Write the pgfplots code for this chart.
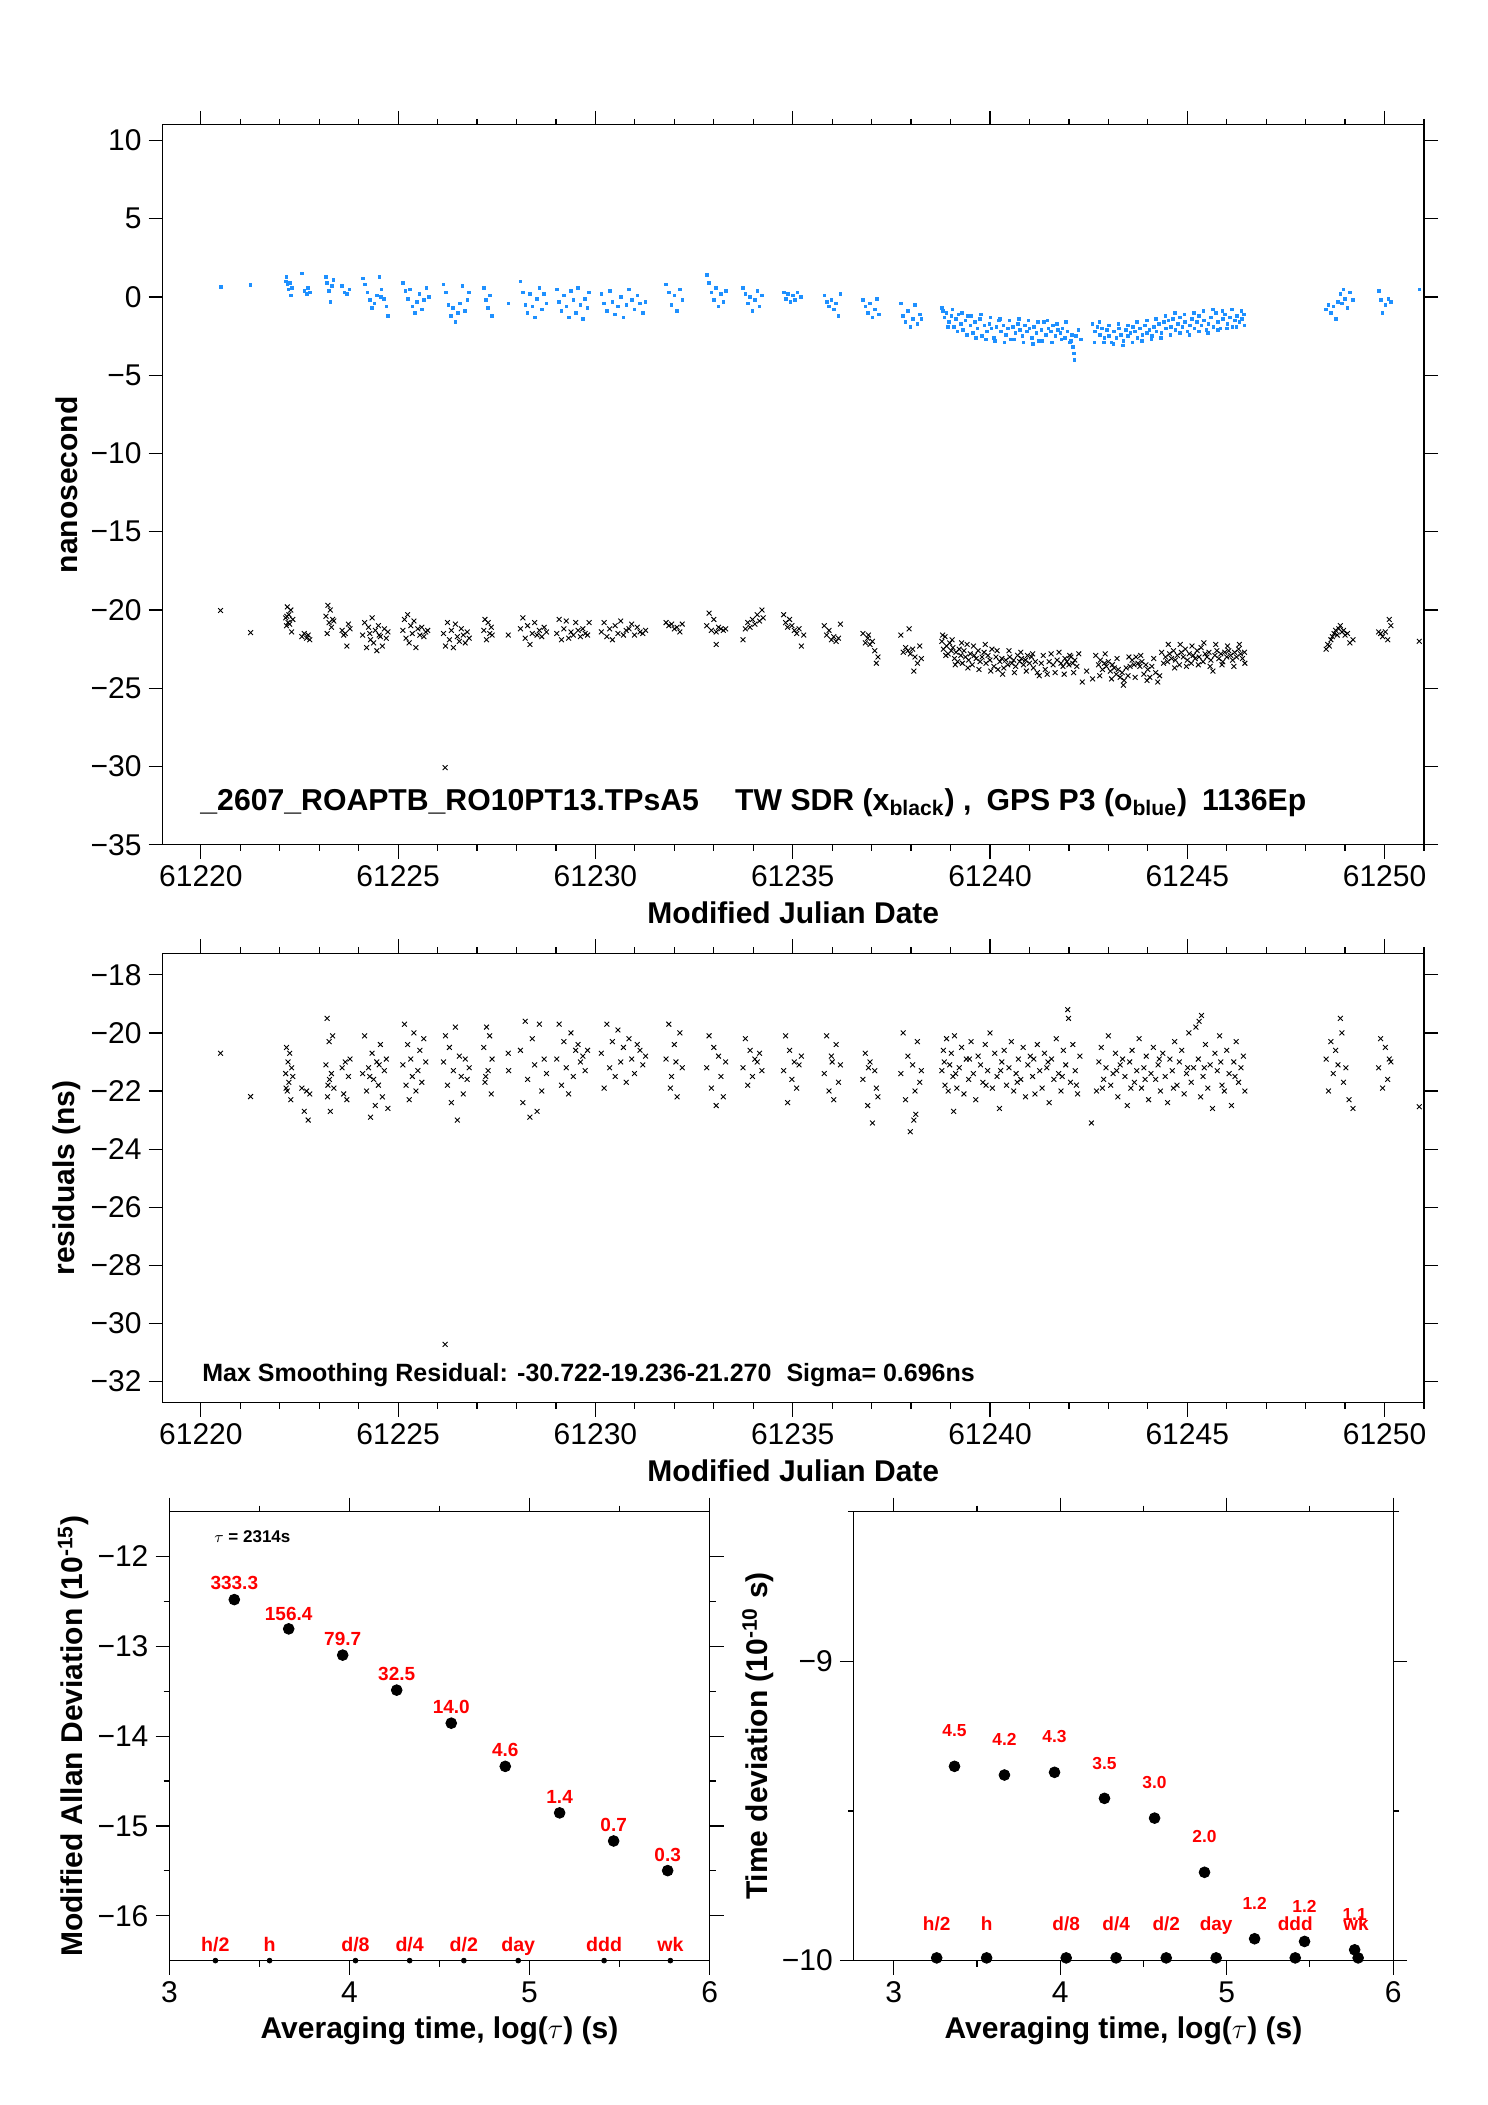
\documentclass[border=0pt]{standalone}
\usepackage{fontspec}
\setmainfont{Liberation Sans}
\usepackage{pgfplots}
\pgfplotsset{compat=1.18}
\definecolor{gpsblue}{RGB}{30,144,255}
\pgfplotsset{every axis/.append style={
  scale only axis, anchor=south west,
  axis line style={line width=0.6pt},
  every tick/.style={line width=0.6pt, black},
  tick align=outside, major tick length=7pt, minor tick length=3pt,
  xtick pos=both, ytick pos=both,
  xticklabel pos=lower, yticklabel pos=left,
  tick label style={font=\fontsize{15}{17}\selectfont},
  label style={font=\bfseries\fontsize{15}{17}\selectfont},
  scaled ticks=false,
}}
\begin{document}
\begin{tikzpicture}
\useasboundingbox (0,0) rectangle (744pt,1052.5pt);
% ================= TOP PANEL =================
\begin{axis}[
  at={(81.3pt,630.1pt)}, width=630.7pt, height=359.95pt,
  xmin=61219.03, xmax=61251.0, ymin=-35, ymax=11,
  xtick={61220,61225,61230,61235,61240,61245,61250},
  xticklabels={61220,61225,61230,61235,61240,61245,61250},
  minor xtick={61219,61220,...,61251},
  ytick={-35,-30,-25,-20,-15,-10,-5,0,5,10},
  yticklabels={−35,−30,−25,−20,−15,−10,−5,0,5,10},
  xlabel={Modified Julian Date},
  xlabel style={at={(axis description cs:0.5,-0.110)}, anchor=base},
  ylabel={nanosecond},
  ylabel style={at={(axis description cs:-0.0758,0.5)}, anchor=center},
]
\addplot[only marks, mark=square*, mark size=0.65pt, color=gpsblue] coordinates {
(61220.50,0.63) (61221.26,0.78)
(61222.15,1.0) (61222.17,1.3) (61222.19,0.8) (61222.22,0.5) (61222.25,0.9) (61222.28,0.1) (61222.30,0.6)
(61222.56,1.5) (61222.62,0.4) (61222.68,0.2) (61222.72,0.6) (61222.76,0.3)
(61223.17,1.3) (61223.20,0.9) (61223.24,0.4) (61223.28,-0.3) (61223.32,0.7) (61223.36,1.1)
(61223.58,0.7) (61223.64,0.3) (61223.70,0.2) (61223.76,0.5)
(61224.10,1.2) (61224.16,0.8) (61224.22,0.3) (61224.28,-0.2) (61224.34,-0.7) (61224.40,-0.4) (61224.46,0.1) (61224.52,1.3) (61224.58,0.5) (61224.64,-0.1) (61224.70,-0.6) (61224.74,-1.2) (61224.56,0.0)
(61225.12,0.9) (61225.18,0.4) (61225.24,-0.1) (61225.30,0.5) (61225.36,-0.6) (61225.42,-1.0) (61225.48,-0.3) (61225.54,0.2) (61225.60,-0.8) (61225.66,-0.2) (61225.72,0.6) (61225.78,0.0)
(61226.15,0.8) (61226.21,0.3) (61226.27,-0.5) (61226.33,-1.2) (61226.39,-0.7) (61226.45,-1.6) (61226.51,-1.0) (61226.57,-0.4) (61226.63,0.7) (61226.69,-0.9) (61226.75,-0.2) (61226.80,0.3)
(61227.17,0.6) (61227.22,-0.2) (61227.28,-0.7) (61227.33,0.1) (61227.38,-1.2) (61227.79,-0.4)
(61228.10,1.0) (61228.16,0.3) (61228.22,-0.5) (61228.28,-1.0) (61228.34,0.2) (61228.40,-0.6) (61228.46,-1.3) (61228.52,-0.1) (61228.58,0.6) (61228.64,-0.8) (61228.70,0.2) (61228.76,-0.4)
(61229.02,0.5) (61229.08,-0.3) (61229.14,-0.9) (61229.20,0.1) (61229.26,-0.6) (61229.32,-1.3) (61229.38,0.4) (61229.44,-0.2) (61229.50,-1.0) (61229.56,0.6) (61229.62,-0.5) (61229.68,-1.4) (61229.74,-0.1) (61229.80,-0.7) (61229.84,0.3)
(61230.15,0.2) (61230.22,-0.4) (61230.29,-0.9) (61230.36,0.4) (61230.43,-0.3) (61230.50,-1.1) (61230.57,-0.6) (61230.64,0.0) (61230.71,-1.3) (61230.78,-0.5) (61230.85,0.5) (61230.92,-0.2) (61230.99,-0.8) (61231.06,0.1) (61231.13,-0.4) (61231.20,-1.0) (61231.27,-0.3)
(61231.79,0.8) (61231.86,0.3) (61231.93,-0.5) (61232.00,0.1) (61232.07,-0.9) (61232.14,0.5) (61232.20,-0.2)
(61232.82,1.4) (61232.88,0.9) (61232.94,0.3) (61233.00,-0.2) (61233.06,0.6) (61233.12,-0.6) (61233.18,0.2) (61233.24,-0.3) (61233.30,0.4)
(61233.74,0.6) (61233.80,0.2) (61233.86,-0.4) (61233.92,0.0) (61233.98,-0.9) (61234.04,-0.2) (61234.10,0.4) (61234.16,-0.6) (61234.22,0.1)
(61234.77,0.3) (61234.82,-0.1) (61234.88,0.2) (61234.94,-0.3) (61235.00,0.1) (61235.06,-0.2) (61235.12,0.3) (61235.20,0.0)
(61235.80,0.1) (61235.86,-0.3) (61235.92,-0.6) (61235.98,-0.2) (61236.04,-0.8) (61236.10,-0.4) (61236.16,-1.2) (61236.21,0.2)
(61236.78,-0.2) (61236.84,-0.6) (61236.90,-1.0) (61236.96,-0.4) (61237.02,-1.3) (61237.08,-0.8) (61237.14,-0.1) (61237.19,-1.1)
(61237.74,-0.4) (61237.80,-1.2) (61237.86,-1.6) (61237.92,-0.9) (61237.98,-1.9) (61238.04,-1.4) (61238.10,-0.5) (61238.16,-1.7) (61238.22,-1.1) (61238.26,-1.4)
(61238.78,-0.7) (61238.84,-1.3) (61238.90,-1.0) (61238.96,-1.6) (61239.02,-1.2) (61239.08,-1.9) (61239.14,-1.4) (61239.20,-1.1) (61239.26,-1.7) (61239.32,-2.1)
(61239.38,-1.5) (61239.44,-1.2) (61239.50,-1.8) (61239.56,-2.3) (61239.62,-1.6) (61239.68,-2.0) (61239.74,-1.4) (61239.80,-2.5) (61239.86,-1.8) (61239.92,-2.2)
(61239.98,-1.7) (61240.04,-2.0) (61240.10,-2.6) (61240.16,-1.9) (61240.22,-1.5) (61240.28,-2.2) (61240.34,-1.8) (61240.40,-2.4) (61240.46,-2.0) (61240.52,-2.7)
(61240.58,-1.9) (61240.64,-2.3) (61240.70,-1.7) (61240.76,-2.1) (61240.82,-2.5) (61240.88,-1.8) (61240.94,-2.2) (61241.00,-2.0) (61241.06,-2.6) (61241.12,-1.9)
(61241.18,-2.3) (61241.24,-2.8) (61241.30,-2.1) (61241.36,-1.6) (61241.42,-2.4) (61241.48,-2.0) (61241.54,-2.2) (61241.60,-1.8) (61241.66,-2.5) (61241.72,-2.1)
(61241.78,-2.3) (61241.84,-2.0) (61241.90,-2.6) (61241.96,-2.2) (61242.02,-2.9) (61242.08,-2.4) (61242.10,-3.2) (61242.12,-3.6) (61242.14,-4.0) (61242.18,-2.5)
(61242.24,-2.1) (61242.30,-2.7) (61242.60,-1.7) (61242.66,-2.2) (61242.72,-1.9) (61242.78,-2.4) (61242.84,-2.0) (61242.90,-2.6) (61242.96,-2.1) (61243.02,-2.5)
(61243.08,-2.9) (61243.14,-2.2) (61243.20,-2.6) (61243.26,-2.0) (61243.32,-2.4) (61243.38,-2.8) (61243.44,-2.1) (61243.50,-2.5) (61243.56,-2.3) (61243.62,-1.9)
(61243.68,-2.2) (61243.74,-2.6) (61243.80,-2.0) (61243.86,-2.4) (61243.92,-1.8) (61243.98,-2.3) (61244.04,-2.1) (61244.10,-2.5) (61244.16,-1.9) (61244.22,-2.2)
(61244.28,-1.7) (61244.34,-2.3) (61244.40,-1.6) (61244.46,-2.0) (61244.52,-1.5) (61244.58,-1.9) (61244.64,-1.4) (61244.70,-2.1) (61244.76,-1.7) (61244.82,-1.3)
(61244.88,-1.9) (61244.94,-1.6) (61245.00,-2.2) (61245.06,-1.8) (61245.12,-1.4) (61245.18,-2.0) (61245.24,-1.6) (61245.30,-1.2) (61245.36,-1.8) (61245.42,-1.5)
(61245.48,-2.1) (61245.54,-1.7) (61245.60,-1.3) (61245.66,-1.9) (61245.72,-1.0) (61245.78,-1.6) (61245.84,-2.0) (61245.90,-1.4) (61245.96,-1.1) (61246.02,-1.7)
(61246.08,-1.3) (61246.14,-1.9) (61246.20,-1.5) (61246.26,-1.2) (61246.32,-1.6) (61246.38,-1.4) (61246.44,-1.1)
(61238.81,-0.9) (61238.93,-1.9) (61239.05,-0.8) (61239.17,-2.2) (61239.29,-1.0) (61239.41,-2.4) (61239.53,-1.2) (61239.65,-2.6) (61239.77,-1.1) (61239.89,-2.7)
(61240.01,-1.3) (61240.13,-2.8) (61240.25,-1.4) (61240.37,-2.9) (61240.49,-1.5) (61240.61,-2.7) (61240.73,-1.4) (61240.85,-2.9) (61240.97,-1.5) (61241.09,-3.0)
(61241.21,-1.6) (61241.33,-2.8) (61241.45,-1.5) (61241.57,-2.9) (61241.69,-1.7) (61241.81,-2.7) (61241.93,-1.6) (61242.05,-2.8) (61242.65,-2.9) (61242.77,-1.6)
(61242.89,-2.9) (61243.01,-1.8) (61243.13,-3.0) (61243.25,-1.7) (61243.37,-3.1) (61243.49,-1.8) (61243.61,-2.9) (61243.73,-1.6) (61243.85,-2.8) (61243.97,-1.5)
(61244.09,-2.7) (61244.21,-1.4) (61244.33,-2.6) (61244.45,-1.2) (61244.57,-2.4) (61244.69,-1.0) (61244.81,-2.3) (61244.93,-1.1) (61245.05,-2.4) (61245.17,-1.0)
(61245.29,-2.2) (61245.41,-0.9) (61245.53,-2.3) (61245.65,-0.8) (61245.77,-2.1) (61245.89,-0.9) (61246.01,-2.0) (61246.13,-0.8) (61246.25,-1.9) (61246.37,-0.9) (61246.45,-1.8)
(61248.52,-0.8) (61248.58,-0.5) (61248.64,-1.0) (61248.70,-0.6) (61248.76,-1.4) (61248.82,-0.3) (61248.88,0.2) (61248.92,-0.4) (61248.96,0.5) (61249.00,-0.1) (61249.06,-0.7) (61249.12,0.3) (61249.20,-0.2)
(61249.85,0.4) (61249.90,-0.2) (61249.95,-1.0) (61250.02,-0.5) (61250.10,-0.1) (61250.16,-0.3)
(61250.88,0.5)
};
\addplot[only marks, mark=x, mark size=1.7pt, black, mark options={line width=0.45pt}] coordinates {
(61220.50,-20.03) (61221.26,-21.44)
(61222.15,-20.5) (61222.17,-21.0) (61222.19,-19.8) (61222.21,-20.8) (61222.23,-20.3) (61222.25,-20.9) (61222.28,-20.0) (61222.30,-21.4) (61222.33,-20.6) (61222.18,-20.4)
(61222.56,-21.7) (61222.62,-21.5) (61222.68,-21.8) (61222.72,-21.6) (61222.76,-21.9)
(61223.17,-20.4) (61223.20,-21.5) (61223.22,-19.7) (61223.25,-20.8) (61223.28,-20.0) (61223.31,-21.1) (61223.34,-20.6) (61223.37,-20.7)
(61223.58,-21.3) (61223.62,-21.6) (61223.66,-21.5) (61223.70,-22.3) (61223.74,-20.9) (61223.78,-21.2)
(61224.10,-21.6) (61224.15,-20.8) (61224.20,-22.4) (61224.25,-21.1) (61224.30,-21.9) (61224.34,-20.5) (61224.38,-22.1) (61224.42,-21.3) (61224.46,-22.6) (61224.50,-21.0) (61224.55,-21.7) (61224.60,-22.3) (61224.65,-21.2) (61224.70,-21.8) (61224.74,-21.4) (61224.28,-21.5) (61224.52,-21.6)
(61225.12,-21.3) (61225.16,-20.6) (61225.20,-21.8) (61225.24,-20.3) (61225.28,-22.1) (61225.32,-21.0) (61225.36,-21.5) (61225.40,-20.7) (61225.45,-22.4) (61225.50,-21.2) (61225.55,-21.6) (61225.60,-21.1) (61225.65,-21.7) (61225.70,-21.4) (61225.75,-21.3)
(61226.15,-21.5) (61226.19,-30.07) (61226.20,-22.3) (61226.25,-20.8) (61226.30,-21.9) (61226.35,-21.3) (61226.40,-22.4) (61226.45,-20.9) (61226.50,-21.7) (61226.55,-22.0) (61226.60,-21.2) (61226.65,-21.6) (61226.70,-22.1) (61226.75,-21.4) (61226.80,-21.8)
(61227.17,-21.3) (61227.20,-20.6) (61227.24,-21.9) (61227.28,-20.8) (61227.32,-21.5) (61227.36,-21.1) (61227.38,-21.6) (61227.79,-21.6)
(61228.10,-21.2) (61228.16,-20.5) (61228.22,-21.8) (61228.28,-21.0) (61228.34,-22.2) (61228.40,-21.5) (61228.46,-20.8) (61228.52,-21.6) (61228.58,-21.3) (61228.64,-21.7) (61228.70,-21.1) (61228.76,-21.4)
(61229.02,-21.5) (61229.08,-20.6) (61229.14,-21.9) (61229.20,-21.2) (61229.26,-20.7) (61229.32,-21.8) (61229.38,-21.4) (61229.44,-21.6) (61229.50,-20.8) (61229.56,-21.3) (61229.62,-21.7) (61229.68,-21.2) (61229.74,-21.5) (61229.80,-21.6) (61229.84,-20.8)
(61230.15,-21.4) (61230.22,-20.8) (61230.29,-21.7) (61230.36,-21.2) (61230.43,-21.9) (61230.50,-21.0) (61230.57,-21.5) (61230.64,-20.7) (61230.71,-21.6) (61230.78,-21.3) (61230.85,-21.2) (61230.92,-20.9) (61230.99,-21.6) (61231.06,-21.1) (61231.13,-21.4) (61231.20,-21.5) (61231.27,-21.3)
(61231.79,-20.8) (61231.86,-21.0) (61231.93,-20.9) (61232.00,-21.2) (61232.07,-21.1) (61232.14,-21.4) (61232.20,-20.9)
(61232.82,-21.0) (61232.88,-20.2) (61232.94,-21.3) (61233.00,-20.6) (61233.06,-21.4) (61233.12,-21.1) (61233.18,-21.2) (61233.24,-21.3) (61233.30,-21.2) (61233.06,-22.2)
(61233.74,-21.9) (61233.80,-21.2) (61233.86,-20.8) (61233.92,-21.1) (61233.98,-20.6) (61234.04,-20.9) (61234.10,-20.3) (61234.16,-20.7) (61234.22,-20.0) (61234.25,-20.5)
(61234.77,-20.3) (61234.82,-20.8) (61234.87,-21.1) (61234.92,-20.6) (61234.98,-21.0) (61235.04,-21.3) (61235.10,-21.5) (61235.16,-21.2) (61235.22,-22.3) (61235.28,-21.6)
(61235.80,-21.0) (61235.86,-21.6) (61235.92,-21.3) (61235.98,-21.9) (61236.04,-21.7) (61236.10,-22.0) (61236.16,-21.8) (61236.21,-20.9)
(61236.78,-21.5) (61236.84,-22.1) (61236.90,-21.8) (61236.96,-22.2) (61237.02,-22.0) (61237.08,-22.6) (61237.12,-23.4) (61237.16,-23.0) (61236.92,-21.6)
(61237.74,-21.6) (61237.80,-22.7) (61237.86,-22.4) (61237.92,-22.6) (61237.98,-22.8) (61238.04,-22.5) (61238.10,-23.0) (61238.16,-23.4) (61238.22,-22.3) (61238.26,-23.1) (61237.95,-21.2) (61238.07,-23.9)
(61238.78,-22.0) (61238.82,-22.5) (61238.86,-21.7) (61238.90,-22.3) (61238.94,-22.8) (61238.98,-22.1) (61239.02,-22.6) (61239.06,-22.4) (61239.10,-23.1) (61239.14,-22.7)
(61239.18,-23.3) (61239.22,-22.5) (61239.26,-22.9) (61239.30,-23.4) (61239.34,-22.6) (61239.38,-23.0) (61239.42,-22.2) (61239.46,-23.2) (61239.50,-22.8) (61239.55,-23.5)
(61239.60,-22.9) (61239.65,-23.1) (61239.70,-22.6) (61239.75,-23.3) (61239.80,-23.0) (61239.85,-22.7) (61239.90,-23.4) (61239.95,-22.9) (61240.00,-23.2) (61240.05,-22.5)
(61240.10,-23.6) (61240.15,-23.0) (61240.20,-23.8) (61240.25,-23.3) (61240.30,-23.1) (61240.35,-23.7) (61240.40,-23.2) (61240.45,-23.5) (61240.50,-23.0) (61240.55,-23.4)
(61240.60,-23.2) (61240.65,-23.6) (61240.70,-22.9) (61240.75,-23.3) (61240.80,-23.1) (61240.85,-23.5) (61240.90,-23.2) (61240.95,-22.9) (61241.00,-23.4) (61241.05,-23.0)
(61241.10,-23.7) (61241.15,-23.3) (61241.20,-24.0) (61241.30,-23.4) (61241.40,-23.8) (61241.50,-23.3) (61241.60,-23.5) (61241.70,-23.2) (61241.80,-23.4) (61241.85,-23.6)
(61241.90,-23.1) (61241.95,-23.3) (61242.00,-23.5) (61242.05,-23.0) (61242.10,-23.4) (61242.15,-23.2) (61242.20,-23.6) (61242.34,-24.6) (61242.60,-24.4) (61242.75,-23.5)
(61242.80,-23.2) (61242.85,-23.8) (61242.90,-23.4) (61242.95,-23.6) (61243.00,-23.3) (61243.05,-23.9) (61243.10,-23.5) (61243.15,-23.7) (61243.20,-24.1) (61243.25,-23.8)
(61243.30,-24.3) (61243.35,-24.0) (61243.40,-24.5) (61243.45,-23.7) (61243.50,-24.2) (61243.55,-23.6) (61243.60,-23.2) (61243.65,-23.5) (61243.70,-23.0) (61243.75,-23.4)
(61243.80,-23.6) (61243.85,-23.3) (61243.90,-24.1) (61243.95,-23.5) (61244.00,-23.8) (61244.05,-24.3) (61244.10,-23.6) (61244.20,-24.0) (61244.30,-24.2) (61244.40,-23.4)
(61244.45,-23.0) (61244.50,-23.3) (61244.55,-22.8) (61244.60,-23.1) (61244.65,-22.6) (61244.70,-23.2) (61244.75,-22.9) (61244.80,-23.5) (61244.85,-22.7) (61244.90,-23.0)
(61244.95,-22.5) (61245.00,-23.2) (61245.05,-22.8) (61245.10,-23.4) (61245.15,-22.9) (61245.20,-23.1) (61245.25,-22.6) (61245.30,-23.0) (61245.35,-22.4) (61245.40,-23.3)
(61245.45,-22.8) (61245.50,-23.0) (61245.55,-22.7) (61245.60,-23.2) (61245.65,-23.9) (61245.70,-22.9) (61245.75,-22.6) (61245.80,-23.1) (61245.85,-22.8) (61245.90,-23.3)
(61245.95,-22.7) (61246.00,-23.0) (61246.05,-22.6) (61246.10,-22.9) (61246.15,-23.2) (61246.20,-22.7) (61246.25,-23.0) (61246.30,-22.5) (61246.35,-22.8) (61246.40,-23.1) (61246.45,-22.7)
(61238.80,-21.6) (61238.88,-22.9) (61239.04,-21.9) (61239.12,-23.5) (61239.28,-22.1) (61239.44,-23.7) (61239.58,-22.3) (61239.72,-23.8) (61239.88,-22.2) (61240.02,-23.9)
(61240.18,-22.6) (61240.32,-24.1) (61240.48,-22.6) (61240.62,-24.0) (61240.78,-22.7) (61240.92,-23.9) (61241.08,-22.8) (61241.25,-24.2) (61241.35,-22.9) (61241.45,-24.1)
(61241.55,-22.8) (61241.65,-24.0) (61241.75,-22.7) (61241.88,-24.1) (61242.02,-22.9) (61242.12,-24.0) (61242.25,-22.8) (61242.45,-23.9) (61242.68,-22.9) (61242.78,-24.2)
(61242.92,-22.8) (61243.08,-24.4) (61243.22,-23.1) (61243.38,-24.8) (61243.52,-23.0) (61243.68,-24.3) (61243.82,-22.9) (61243.98,-24.5) (61244.15,-23.1) (61244.25,-24.6)
(61244.35,-22.7) (61244.52,-22.2) (61244.68,-23.7) (61244.82,-22.2) (61244.98,-23.6) (61245.12,-22.3) (61245.28,-23.5) (61245.42,-22.1) (61245.58,-23.6) (61245.72,-22.2)
(61245.88,-23.5) (61246.02,-22.3) (61246.18,-23.6) (61246.32,-22.2) (61246.46,-23.4)
(61248.52,-22.5) (61248.56,-22.2) (61248.60,-22.3) (61248.64,-21.9) (61248.68,-21.7) (61248.72,-21.5) (61248.76,-21.3) (61248.80,-21.6) (61248.84,-21.2) (61248.88,-21.0) (61248.92,-21.4) (61248.96,-21.3) (61249.00,-21.6) (61249.06,-21.5) (61249.12,-22.1) (61249.20,-21.9)
(61249.85,-21.4) (61249.90,-21.5) (61249.95,-21.7) (61250.02,-21.4) (61250.08,-21.9) (61250.12,-20.6) (61250.16,-21.0)
(61250.88,-22.0)
};
\node[anchor=base west, font=\bfseries\fontsize{15.1}{17}\selectfont, inner sep=0pt] at (rel axis cs:0.0297,0.0483)
  {\_2607\_ROAPTB\_RO10PT13.TPsA5\hspace{1.2em}TW SDR (x\textsubscript{black}) ,\hspace{0.5em}GPS P3 (o\textsubscript{blue})\hspace{0.5em}1136Ep};
\end{axis}
% ================= MIDDLE PANEL =================
\begin{axis}[
  at={(81.3pt,351.1pt)}, width=630.7pt, height=224.75pt,
  xmin=61219.03, xmax=61251.0, ymin=-32.73, ymax=-17.26,
  xtick={61220,61225,61230,61235,61240,61245,61250},
  xticklabels={61220,61225,61230,61235,61240,61245,61250},
  minor xtick={61219,61220,...,61251},
  ytick={-32,-30,-28,-26,-24,-22,-20,-18},
  yticklabels={−32,−30,−28,−26,−24,−22,−20,−18},
  xlabel={Modified Julian Date},
  xlabel style={at={(axis description cs:0.5,-0.1744)}, anchor=base},
  ylabel={residuals (ns)},
  ylabel style={at={(axis description cs:-0.0758,0.5)}, anchor=center},
]
\addplot[only marks, mark=x, mark size=1.7pt, black, mark options={line width=0.45pt}] coordinates {
(61220.50,-20.70) (61221.26,-22.19)
(61222.15,-21.4) (61222.17,-20.5) (61222.19,-22.0) (61222.21,-21.0) (61222.23,-21.7) (61222.25,-20.7) (61222.28,-22.3) (61222.30,-21.2) (61222.16,-21.9) (61222.33,-21.5)
(61222.56,-21.9) (61222.62,-22.7) (61222.68,-22.0) (61222.72,-23.0) (61222.76,-22.1)
(61223.17,-21.1) (61223.20,-19.5) (61223.22,-21.8) (61223.25,-20.3) (61223.28,-22.7) (61223.31,-21.4) (61223.34,-20.1) (61223.21,-22.2) (61223.26,-21.6) (61223.37,-21.9)
(61223.58,-21.2) (61223.62,-22.1) (61223.66,-21.0) (61223.70,-22.3) (61223.74,-21.5) (61223.78,-20.9)
(61224.10,-21.4) (61224.15,-20.1) (61224.20,-22.0) (61224.25,-21.2) (61224.30,-22.9) (61224.34,-20.7) (61224.38,-21.6) (61224.42,-22.5) (61224.46,-21.0) (61224.50,-21.8) (61224.55,-20.4) (61224.60,-22.2) (61224.65,-21.3) (61224.70,-20.9) (61224.74,-22.6) (61224.28,-21.5) (61224.52,-21.1)
(61225.12,-21.1) (61225.16,-19.7) (61225.20,-21.8) (61225.24,-20.4) (61225.28,-22.3) (61225.32,-20.9) (61225.36,-21.5) (61225.40,-20.0) (61225.45,-22.0) (61225.50,-21.3) (61225.55,-20.6) (61225.60,-21.7) (61225.65,-20.2) (61225.70,-21.0)
(61226.15,-21.0) (61226.19,-30.72) (61226.20,-20.1) (61226.25,-21.8) (61226.30,-20.5) (61226.35,-22.4) (61226.40,-21.3) (61226.45,-19.8) (61226.50,-23.0) (61226.55,-20.8) (61226.60,-21.5) (61226.65,-22.1) (61226.70,-20.9) (61226.75,-21.6) (61226.80,-21.2)
(61227.17,-20.5) (61227.20,-21.7) (61227.24,-19.8) (61227.28,-21.3) (61227.32,-20.1) (61227.36,-22.1) (61227.38,-20.9) (61227.22,-21.5)
(61227.79,-20.7) (61227.80,-21.3)
(61228.10,-20.6) (61228.16,-22.4) (61228.22,-19.6) (61228.28,-21.6) (61228.34,-22.9) (61228.40,-20.2) (61228.46,-21.1) (61228.52,-22.7) (61228.58,-19.7) (61228.64,-22.0) (61228.70,-20.9) (61228.76,-21.4)
(61229.02,-20.9) (61229.08,-19.7) (61229.14,-21.8) (61229.20,-20.3) (61229.26,-21.2) (61229.32,-22.1) (61229.38,-20.0) (61229.44,-21.5) (61229.50,-20.6) (61229.56,-20.4) (61229.62,-21.0) (61229.68,-20.8) (61229.74,-21.3) (61229.80,-20.6)
(61230.15,-20.7) (61230.22,-21.9) (61230.29,-19.7) (61230.36,-21.2) (61230.43,-20.3) (61230.50,-21.5) (61230.57,-19.9) (61230.64,-21.0) (61230.71,-20.5) (61230.78,-21.7) (61230.85,-20.2) (61230.92,-20.9) (61230.99,-21.4) (61231.06,-20.4) (61231.13,-20.6) (61231.20,-21.1) (61231.27,-20.8)
(61231.79,-20.9) (61231.86,-19.7) (61231.93,-21.5) (61232.00,-20.4) (61232.07,-22.2) (61232.14,-20.0) (61232.20,-21.2) (61231.90,-21.9) (61232.04,-21.0)
(61232.82,-21.2) (61232.88,-20.1) (61232.94,-21.9) (61233.00,-20.5) (61233.06,-22.5) (61233.12,-20.8) (61233.18,-21.5) (61233.24,-22.2) (61233.30,-21.0)
(61233.74,-21.2) (61233.80,-20.2) (61233.86,-21.8) (61233.92,-20.6) (61233.98,-21.5) (61234.04,-20.9) (61234.10,-21.0) (61234.16,-20.7) (61234.22,-21.3)
(61234.77,-21.3) (61234.82,-20.1) (61234.87,-22.4) (61234.92,-20.6) (61234.98,-21.6) (61235.04,-21.0) (61235.10,-21.9) (61235.16,-21.1) (61235.22,-20.8)
(61235.80,-21.4) (61235.86,-20.1) (61235.92,-22.0) (61235.98,-20.8) (61236.04,-22.3) (61236.10,-20.4) (61236.16,-21.7) (61236.21,-21.1) (61236.00,-21.0)
(61236.78,-21.6) (61236.84,-20.7) (61236.90,-22.5) (61236.96,-21.0) (61237.02,-23.1) (61237.08,-21.3) (61237.12,-21.9) (61237.16,-22.2) (61236.92,-21.2)
(61237.74,-21.4) (61237.80,-20.0) (61237.86,-22.3) (61237.92,-20.8) (61237.98,-23.4) (61238.04,-21.1) (61238.10,-22.0) (61238.16,-20.3) (61238.22,-21.7) (61238.07,-23.0) (61238.12,-22.8) (61238.26,-21.3)
(61238.78,-21.3) (61238.82,-20.6) (61238.86,-21.8) (61238.90,-20.2) (61238.94,-22.0) (61238.98,-21.1) (61239.02,-20.7) (61239.06,-21.5) (61239.08,-22.7) (61239.10,-20.1)
(61239.16,-21.9) (61239.22,-21.2) (61239.28,-20.5) (61239.34,-22.1) (61239.40,-20.9) (61239.46,-21.6) (61239.52,-20.3) (61239.58,-21.4) (61239.64,-22.3) (61239.70,-20.8)
(61239.76,-21.1) (61239.82,-21.7) (61239.88,-20.4) (61239.94,-21.3) (61240.00,-20.0) (61240.06,-21.9) (61240.12,-20.7) (61240.18,-21.5) (61240.24,-22.6) (61240.30,-21.0)
(61240.36,-20.6) (61240.42,-21.8) (61240.48,-21.2) (61240.54,-20.3) (61240.60,-22.0) (61240.66,-21.4) (61240.72,-20.9) (61240.78,-21.6) (61240.84,-20.5) (61240.90,-22.2)
(61240.96,-21.1) (61241.02,-20.8) (61241.08,-21.5) (61241.14,-22.1) (61241.20,-20.4) (61241.26,-21.3) (61241.32,-21.9) (61241.38,-20.7) (61241.44,-21.2) (61241.50,-22.4)
(61241.56,-20.9) (61241.62,-21.6) (61241.68,-20.2) (61241.74,-21.4) (61241.80,-22.0) (61241.86,-20.6) (61241.92,-21.1) (61241.97,-19.2) (61241.99,-19.5) (61242.04,-21.7)
(61242.10,-20.4) (61242.16,-21.3) (61242.22,-22.1) (61242.28,-20.8) (61242.57,-23.1) (61242.70,-22.0) (61242.76,-21.0) (61242.82,-20.5) (61242.88,-21.6) (61242.94,-21.2)
(61243.00,-20.1) (61243.06,-21.8) (61243.12,-21.4) (61243.18,-20.7) (61243.24,-22.2) (61243.30,-21.1) (61243.36,-20.9) (61243.42,-21.5) (61243.48,-22.5) (61243.54,-21.0)
(61243.60,-20.6) (61243.66,-21.7) (61243.72,-21.3) (61243.78,-20.2) (61243.84,-21.9) (61243.90,-21.2) (61243.96,-20.8) (61244.02,-22.3) (61244.08,-21.4) (61244.14,-20.5)
(61244.20,-21.6) (61244.26,-21.1) (61244.32,-22.0) (61244.38,-20.7) (61244.44,-21.5) (61244.50,-22.4) (61244.56,-20.9) (61244.62,-21.3) (61244.68,-20.3) (61244.74,-21.8)
(61244.80,-21.0) (61244.86,-20.6) (61244.92,-22.1) (61244.98,-21.4) (61245.04,-20.0) (61245.10,-21.7) (61245.16,-21.2) (61245.22,-19.8) (61245.28,-20.9) (61245.34,-22.2)
(61245.40,-21.5) (61245.46,-20.4) (61245.52,-21.9) (61245.58,-21.1) (61245.64,-22.6) (61245.70,-20.7) (61245.76,-21.3) (61245.82,-20.1) (61245.88,-21.8) (61245.94,-22.0)
(61246.00,-20.6) (61246.06,-21.4) (61246.12,-22.5) (61246.18,-21.0) (61246.24,-20.3) (61246.30,-21.7) (61246.36,-21.2) (61246.42,-20.8) (61246.46,-22.0)
(61245.30,-19.6) (61245.36,-19.4)
(61238.84,-21.0) (61239.13,-21.4) (61239.48,-20.9) (61239.90,-21.8) (61240.27,-21.3) (61240.69,-21.7) (61241.11,-20.9) (61241.47,-21.0) (61241.83,-21.5) (61242.19,-21.8)
(61242.85,-21.9) (61243.21,-21.3) (61243.57,-21.9) (61243.93,-21.6) (61244.29,-20.9) (61244.65,-21.9) (61245.01,-21.2) (61245.43,-21.2) (61245.85,-21.0) (61246.21,-21.5)
(61248.52,-20.9) (61248.58,-22.0) (61248.64,-20.3) (61248.70,-21.4) (61248.88,-19.5) (61249.20,-22.6) (61248.76,-20.6) (61248.82,-21.1) (61249.10,-22.3) (61248.92,-20.0) (61248.96,-21.7) (61249.02,-21.2)
(61249.85,-21.2) (61249.90,-20.2) (61249.95,-21.9) (61250.02,-20.5) (61250.08,-21.6) (61250.12,-20.9) (61250.16,-21.0)
(61250.88,-22.54)
};
\node[anchor=base west, font=\bfseries\fontsize{12.5}{15}\selectfont, inner sep=0pt] at (rel axis cs:0.0312,0.0463)
  {Max Smoothing Residual: -30.722-19.236-21.270\hspace{0.6em}Sigma= 0.696ns};
\end{axis}
% ================= BOTTOM LEFT =================
\begin{axis}[
  at={(84.75pt,72.2pt)}, width=270.05pt, height=224.5pt,
  xmin=3, xmax=6, ymin=-16.5, ymax=-11.5,
  xtick={3,4,5,6}, xticklabels={3,4,5,6}, minor xtick={3.5,4.5,5.5},
  ytick={-16,-15,-14,-13,-12}, yticklabels={−16,−15,−14,−13,−12},
  minor ytick={-15.5,-14.5,-13.5,-12.5},
  xlabel={Averaging time, log($\tau$) (s)},
  xlabel style={at={(axis description cs:0.5,-0.1728)}, anchor=base},
  ylabel={Modified Allan Deviation (10\textsuperscript{-15})},
  ylabel style={at={(axis description cs:-0.1777,0.5)}, anchor=center},
]
\addplot[only marks, mark=*, mark size=2.7pt, black] coordinates {
(3.360,-12.480) (3.662,-12.806) (3.962,-13.098) (4.262,-13.488) (4.565,-13.856)
(4.865,-14.337) (5.167,-14.855) (5.467,-15.168) (5.767,-15.498)};
\addplot[only marks, mark=*, mark size=1.2pt, black] coordinates {
(3.255,-16.5) (3.556,-16.5) (4.033,-16.5) (4.334,-16.5) (4.635,-16.5) (4.937,-16.5) (5.414,-16.5) (5.782,-16.5)};
\begin{scope}[every node/.style={text=red, font=\bfseries\fontsize{9.5}{11}\selectfont, anchor=base, inner sep=0pt}]
\node at (axis cs:3.360,-12.373) {333.3};
\node at (axis cs:3.662,-12.716) {156.4};
\node at (axis cs:3.962,-12.990) {79.7};
\node at (axis cs:4.262,-13.385) {32.5};
\node at (axis cs:4.565,-13.753) {14.0};
\node at (axis cs:4.865,-14.229) {4.6};
\node at (axis cs:5.167,-14.752) {1.4};
\node at (axis cs:5.467,-15.065) {0.7};
\node at (axis cs:5.767,-15.400) {0.3};
\end{scope}
\begin{scope}[every node/.style={text=red, font=\bfseries\fontsize{9.8}{11}\selectfont, anchor=base, inner sep=0pt}]
\node at (axis cs:3.255,-16.394) {h/2};
\node at (axis cs:3.556,-16.394) {h};
\node at (axis cs:4.033,-16.394) {d/8};
\node at (axis cs:4.334,-16.394) {d/4};
\node at (axis cs:4.635,-16.394) {d/2};
\node at (axis cs:4.937,-16.394) {day};
\node at (axis cs:5.414,-16.394) {ddd};
\node at (axis cs:5.782,-16.394) {wk};
\end{scope}
\node[anchor=base west, inner sep=0pt, font=\bfseries\fontsize{8.5}{10}\selectfont] at (axis cs:3.247,-11.84) {$\tau$ = 2314s};
\end{axis}
% ================= BOTTOM RIGHT =================
\begin{axis}[
  at={(426.9pt,72.2pt)}, width=269.65pt, height=224.5pt,
  xmin=2.76, xmax=6, ymin=-10, ymax=-8.5,
  xtick={3,4,5,6}, xticklabels={3,4,5,6}, minor xtick={3.5,4.5,5.5},
  ytick={-10,-9}, yticklabels={−10,−9},
  minor ytick={-9.5,-8.5},
  xlabel={Averaging time, log($\tau$) (s)},
  xlabel style={at={(axis description cs:0.5,-0.1728)}, anchor=base},
  ylabel={Time deviation (10\textsuperscript{-10} s)},
  ylabel style={at={(axis description cs:-0.178,0.5)}, anchor=center},
]
\addplot[only marks, mark=*, mark size=2.7pt, black] coordinates {
(3.365,-9.351) (3.665,-9.380) (3.966,-9.371) (4.266,-9.458) (4.567,-9.524)
(4.867,-9.705) (5.168,-9.927) (5.468,-9.936) (5.769,-9.964)};
\addplot[only marks, mark=*, mark size=2.7pt, black] coordinates {
(3.258,-9.991) (3.558,-9.991) (4.036,-9.991) (4.336,-9.991) (4.637,-9.991) (4.937,-9.991) (5.412,-9.991) (5.790,-9.991)};
\begin{scope}[every node/.style={text=red, font=\bfseries\fontsize{8.7}{10}\selectfont, anchor=base, inner sep=0pt}]
\node at (axis cs:3.365,-9.251) {4.5};
\node at (axis cs:3.665,-9.282) {4.2};
\node at (axis cs:3.966,-9.272) {4.3};
\node at (axis cs:4.266,-9.362) {3.5};
\node at (axis cs:4.567,-9.425) {3.0};
\node at (axis cs:4.867,-9.607) {2.0};
\node at (axis cs:5.168,-9.829) {1.2};
\node at (axis cs:5.468,-9.838) {1.2};
\node at (axis cs:5.769,-9.865) {1.1};
\end{scope}
\begin{scope}[every node/.style={text=red, font=\bfseries\fontsize{9.5}{11}\selectfont, anchor=base, inner sep=0pt}]
\node at (axis cs:3.258,-9.900) {h/2};
\node at (axis cs:3.558,-9.900) {h};
\node at (axis cs:4.036,-9.900) {d/8};
\node at (axis cs:4.336,-9.900) {d/4};
\node at (axis cs:4.637,-9.900) {d/2};
\node at (axis cs:4.937,-9.900) {day};
\node at (axis cs:5.412,-9.900) {ddd};
\node at (axis cs:5.777,-9.900) {wk};
\end{scope}
\end{axis}
\end{tikzpicture}
\end{document}
